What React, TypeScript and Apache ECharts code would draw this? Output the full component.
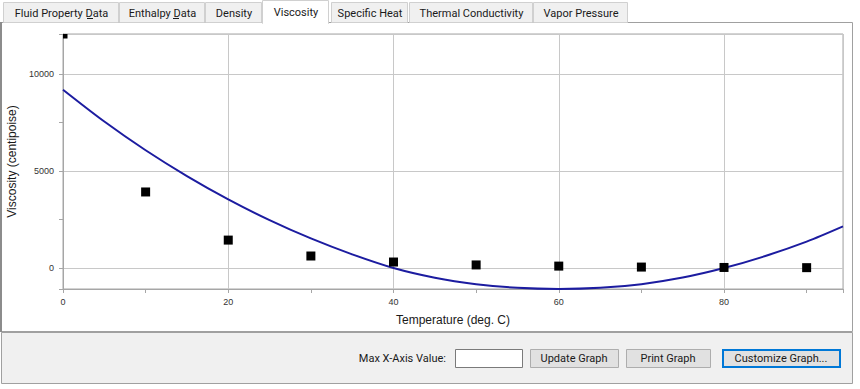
import React, { useEffect, useRef } from "react";
import * as echarts from "echarts";

// ---------- data ----------
const tabLabels = [
  "Fluid Property Data",
  "Enthalpy Data",
  "Density",
  "Viscosity",
  "Specific Heat",
  "Thermal Conductivity",
  "Vapor Pressure",
];
const activeTab = "Viscosity";

const dataTemps = [0, 10, 20, 30, 40, 50, 60, 70, 80, 90];
const dataViscosity = [12060, 3920, 1440, 620, 310, 160, 100, 50, 30, 20];

const fitTemps = [0, 5, 10, 15, 20, 25, 30, 35, 40, 45, 50, 55, 60, 65, 70, 75, 80, 85, 90, 94.4];
const fitViscosity = [
  9190, 7550, 6070, 4740, 3540, 2470, 1525, 705, 0, -500, -830, -1020, -1080, -1020, -830, -490, 0, 620,
  1360, 2145,
];

const xName = "Temperature (deg. C)";
const yName = "Viscosity (centipoise)";
const xMin = 0;
const xMax = 94.4;
const yMin = -1080;
const yMax = 12060;

const inputLabel = "Max X-Axis Value:";
const buttonLabels = ["Update Graph", "Print Graph", "Customize Graph..."];

// ---------- layout (positions only) ----------
const tabBoxes = [
  [3, 118],
  [119, 204],
  [205, 261],
  [262, 328],
  [331, 407],
  [409, 532],
  [533, 627],
];
const underlineBoxes: Record<string, [number, number]> = {
  "Fluid Property Data": [87, 93],
  "Enthalpy Data": [173, 179],
};
const buttonBoxes = [
  [530, 618],
  [626, 710],
  [722, 840],
];

const UI_FONT = "Roboto, 'Noto Sans', sans-serif";
const CHART_FONT = "'Liberation Sans', Arial, sans-serif";

function buildGraphic() {
  const g: any[] = [];
  g.push({
    type: "rect",
    z: 10,
    silent: true,
    shape: { x: 1.5, y: 22.5, width: 851, height: 309 },
    style: { fill: "none", stroke: "#a0a0a0", lineWidth: 1 },
  });
  g.push({
    type: "line",
    z: 10,
    silent: true,
    shape: { x1: 1, y1: 22, x2: 1, y2: 332 },
    style: { stroke: "#8c8c8c", lineWidth: 2 },
  });
  g.push({
    type: "rect",
    z: 10,
    silent: true,
    shape: { x: 1.5, y: 332.5, width: 851, height: 51 },
    style: { fill: "#f0f0f0", stroke: "#a0a0a0", lineWidth: 1 },
  });
  tabLabels.forEach((label, i) => {
    const [x0, x1] = tabBoxes[i];
    const active = label === activeTab;
    g.push({
      type: "rect",
      z: active ? 12 : 11,
      silent: true,
      shape: active
        ? { x: x0 + 0.5, y: 0.5, width: x1 - x0, height: 23 }
        : { x: x0 + 0.5, y: 2.5, width: x1 - x0, height: 20 },
      style: { fill: active ? "#ffffff" : "#f0f0f0", stroke: "#d0d0d0", lineWidth: 1 },
    });
    if (active) {
      g.push({
        type: "rect",
        z: 13,
        silent: true,
        shape: { x: x0 + 1, y: 21, width: x1 - x0 - 1, height: 3 },
        style: { fill: "#ffffff" },
      });
    }
    g.push({
      type: "text",
      z: 14,
      silent: true,
      x: (x0 + x1) / 2 + 1,
      y: active ? 12 : 13.5,
      style: {
        text: label,
        fontFamily: UI_FONT,
        fontSize: 11,
        fill: "#1a1a1a",
        align: "center",
        verticalAlign: "middle",
      },
    });
    const ul = underlineBoxes[label];
    if (ul) {
      g.push({
        type: "line",
        z: 14,
        silent: true,
        shape: { x1: ul[0], y1: 18.5, x2: ul[1], y2: 18.5 },
        style: { stroke: "#1a1a1a", lineWidth: 1 },
      });
    }
  });
  g.push({
    type: "text",
    z: 14,
    silent: true,
    x: 446,
    y: 358.5,
    style: {
      text: inputLabel,
      fontFamily: UI_FONT,
      fontSize: 11,
      fill: "#1a1a1a",
      align: "right",
      verticalAlign: "middle",
    },
  });
  g.push({
    type: "rect",
    z: 14,
    silent: true,
    shape: { x: 455.5, y: 349.5, width: 67, height: 18 },
    style: { fill: "#ffffff", stroke: "#7a7a7a", lineWidth: 1 },
  });
  buttonLabels.forEach((label, i) => {
    const [x0, x1] = buttonBoxes[i];
    const focused = i === buttonLabels.length - 1;
    g.push({
      type: "rect",
      z: 14,
      silent: true,
      shape: focused
        ? { x: x0 + 1, y: 350, width: x1 - x0 - 1, height: 17 }
        : { x: x0 + 0.5, y: 349.5, width: x1 - x0, height: 18 },
      style: {
        fill: "#e1e1e1",
        stroke: focused ? "#0078d7" : "#adadad",
        lineWidth: focused ? 2 : 1,
      },
    });
    g.push({
      type: "text",
      z: 15,
      silent: true,
      x: (x0 + x1) / 2,
      y: 358.5,
      style: {
        text: label,
        fontFamily: UI_FONT,
        fontSize: 11,
        fill: "#1a1a1a",
        align: "center",
        verticalAlign: "middle",
      },
    });
  });
  return g;
}

export default function App() {
  const ref = useRef<HTMLDivElement>(null);
  useEffect(() => {
    document.body.style.margin = "0";
    if (!ref.current) return;
    const chart = echarts.init(ref.current, null, { renderer: "svg" });
    const axisGrey = "#a6a6a6";
    const gridGrey = "#c8c8c8";
    const option: any = {
      animation: false,
      backgroundColor: "#ffffff",
      textStyle: { fontFamily: CHART_FONT },
      grid: {
        left: 63,
        top: 34,
        right: 17,
        bottom: 100,
        show: true,
        backgroundColor: "#ffffff",
        borderColor: axisGrey,
        borderWidth: 1,
        containLabel: false,
        outerBoundsMode: "none",
      },
      xAxis: {
        type: "value",
        min: xMin,
        max: xMax,
        interval: 20,
        position: "bottom",
        name: xName,
        nameLocation: "middle",
        nameGap: 25,
        nameTextStyle: { fontSize: 12, color: "#1a1a1a", fontFamily: CHART_FONT },
        axisLine: { show: true, onZero: false, lineStyle: { color: axisGrey, width: 1 } },
        axisTick: { show: true, length: 4, lineStyle: { color: axisGrey } },
        minorTick: { show: true, splitNumber: 2, length: 4, lineStyle: { color: axisGrey } },
        axisLabel: {
          showMaxLabel: false,
          fontSize: 9,
          color: "#333333",
          margin: 8,
          fontFamily: CHART_FONT,
          formatter: (v: number) => String(v),
        },
        splitLine: { show: true, lineStyle: { color: gridGrey, width: 1 } },
        minorSplitLine: { show: false },
      },
      yAxis: {
        type: "value",
        min: yMin,
        max: yMax,
        splitNumber: 3,
        position: "left",
        name: yName,
        nameLocation: "middle",
        nameGap: 43,
        nameRotate: 90,
        nameTextStyle: { fontSize: 12, color: "#1a1a1a", fontFamily: CHART_FONT },
        axisLine: { show: true, onZero: false, lineStyle: { color: axisGrey, width: 1 } },
        axisTick: { show: true, length: 4, lineStyle: { color: axisGrey } },
        minorTick: { show: true, splitNumber: 2, length: 4, lineStyle: { color: axisGrey } },
        axisLabel: {
          showMinLabel: false,
          showMaxLabel: false,
          fontSize: 9,
          color: "#333333",
          margin: 9,
          fontFamily: CHART_FONT,
          formatter: (v: number) => String(v),
        },
        splitLine: { show: true, lineStyle: { color: gridGrey, width: 1 } },
        minorSplitLine: { show: false },
      },
      series: [
        {
          type: "line",
          name: "fit",
          data: fitTemps.map((x, i) => [x, fitViscosity[i]]),
          smooth: 0.3,
          showSymbol: false,
          clip: true,
          z: 3,
          lineStyle: { color: "#1c1ca0", width: 2 },
          itemStyle: { color: "#1c1ca0" },
        },
        {
          type: "custom",
          name: "data",
          clip: true,
          z: 4,
          encode: { x: 0, y: 1 },
          data: dataTemps.map((x, i) => [x, dataViscosity[i]]),
          renderItem: (params: any, api: any) => {
            const p = api.coord([api.value(0), api.value(1)]);
            const s = 9;
            return {
              type: "rect",
              shape: { x: p[0] - s / 2, y: p[1] - s / 2, width: s, height: s },
              style: { fill: "#000000" },
            };
          },
        },
      ],
      graphic: { elements: buildGraphic() },
    };
    chart.setOption(option);
    return () => chart.dispose();
  }, []);
  return (
    <div
      ref={ref}
      style={{ position: "fixed", left: 0, top: 0, width: 860, height: 389, background: "#ffffff" }}
    />
  );
}
